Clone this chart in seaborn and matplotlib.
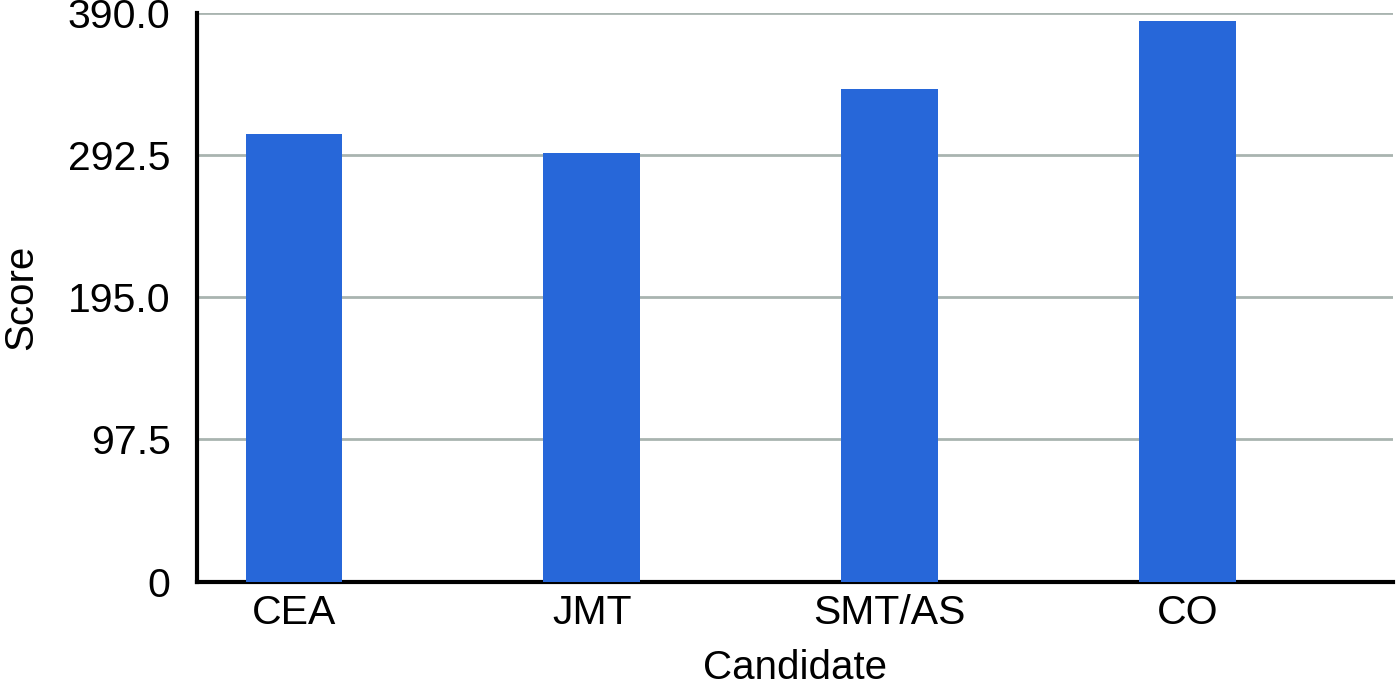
import matplotlib
matplotlib.use("Agg")
import matplotlib.pyplot as plt
import seaborn as sns
import pandas as pd

# values
candidates = ["CEA", "JMT", "SMT/AS", "CO"]
scores = [307, 294, 338, 384]
y_ticks = [0, 97.5, 195.0, 292.5, 390.0]
y_tick_labels = ["0", "97.5", "195.0", "292.5", "390.0"]

df = pd.DataFrame({"Candidate": candidates, "Score": scores})

sns.set_style("white")
plt.rcParams["font.family"] = ["Liberation Sans", "DejaVu Sans"]
plt.rcParams["text.color"] = "black"
plt.rcParams["axes.labelcolor"] = "black"
plt.rcParams["xtick.color"] = "black"
plt.rcParams["ytick.color"] = "black"

fig = plt.figure(figsize=(14, 6.89), dpi=100)
ax = fig.add_axes([0.1407, 0.1557, 0.8543, 0.8259])

sns.barplot(data=df, x="Candidate", y="Score", color="#2767D9",
            width=0.325, saturation=1, linewidth=0, ax=ax, zorder=3)

ax.set_ylim(0, 390)
ax.set_xlim(-0.326, 3.69)
ax.set_yticks(y_ticks)
ax.set_yticklabels(y_tick_labels)
ax.yaxis.grid(True, color="#A9B4B0", linewidth=2, zorder=0)
ax.set_axisbelow(True)

for side in ["top", "right"]:
    ax.spines[side].set_visible(False)
for side in ["left", "bottom"]:
    ax.spines[side].set_color("black")
    ax.spines[side].set_linewidth(3)

ax.tick_params(axis="both", length=0, labelsize=29.5)
ax.tick_params(axis="y", pad=19)
ax.tick_params(axis="x", pad=9)
ax.set_xlabel("Candidate", fontsize=29, labelpad=12)
ax.set_ylabel("Score", fontsize=29, labelpad=20)

fig.savefig("out.png", dpi=100)
